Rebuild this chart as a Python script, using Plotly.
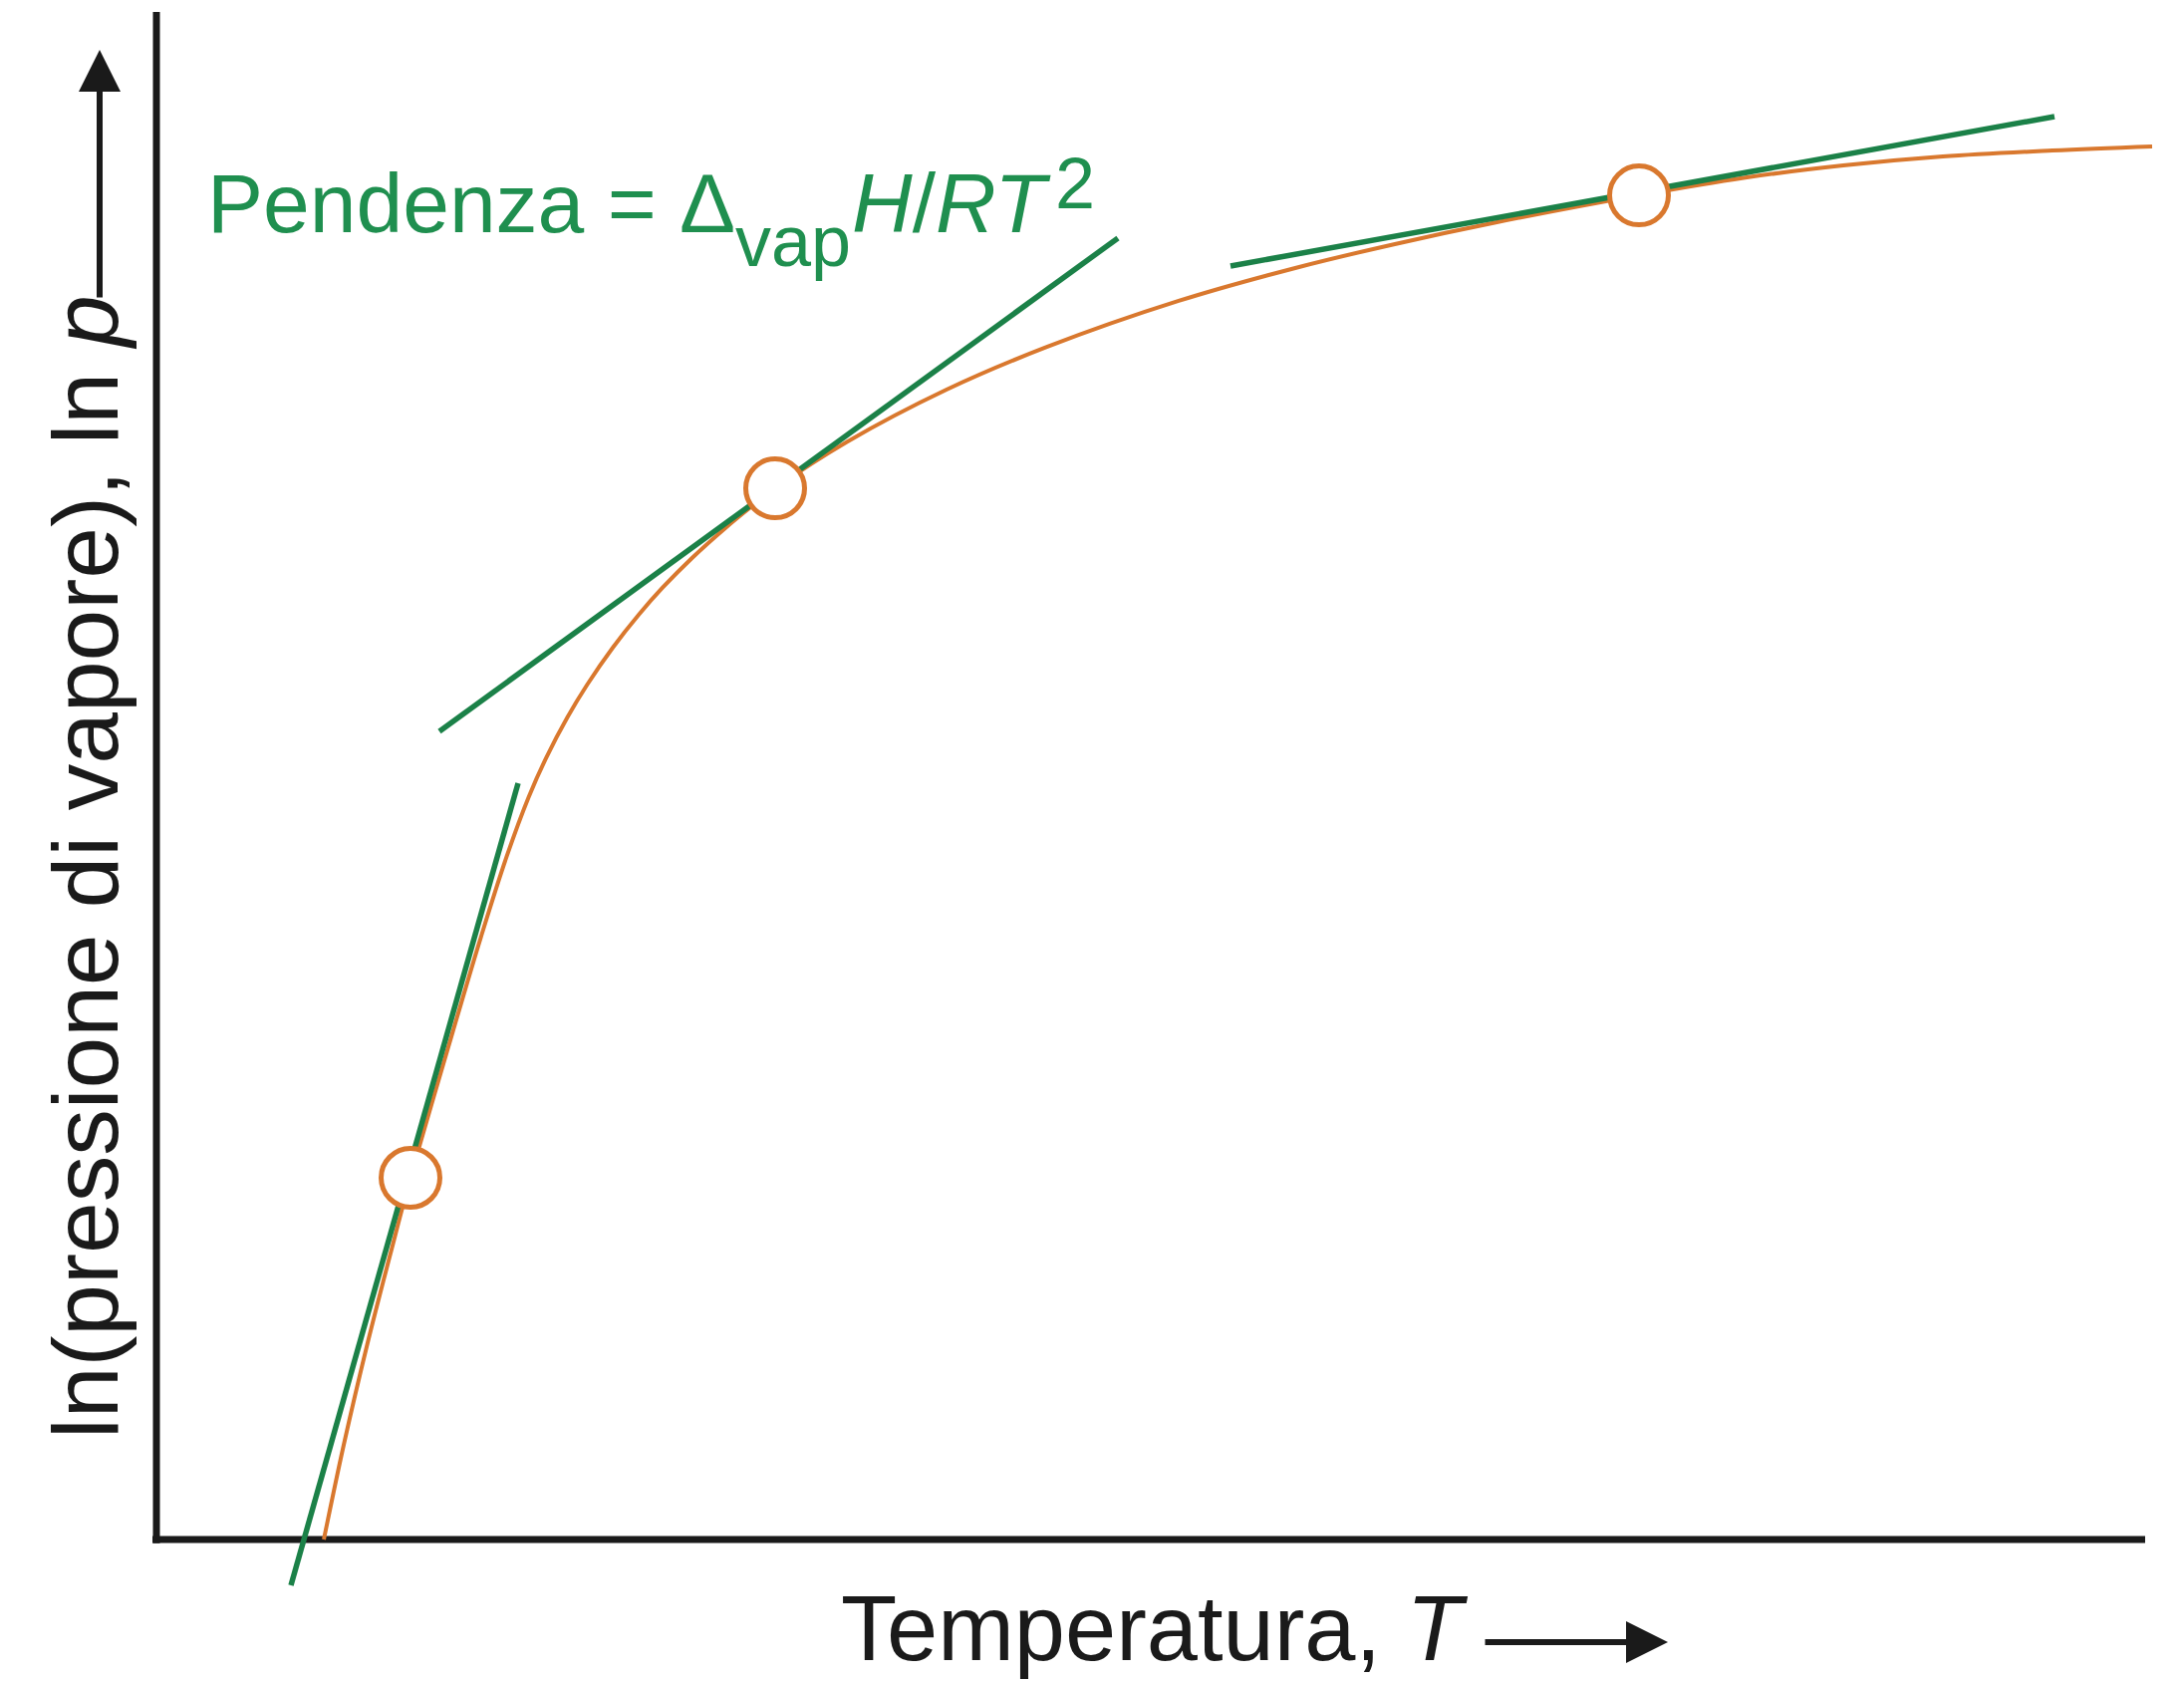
import plotly.graph_objects as go

# ---- data (arbitrary units: temperature T, ln p) ----
curve_T = [8.4, 9.4, 10.57, 11.72, 12.75, 15.1, 16.29, 17.57, 18.68, 19.57, 20.62,
           21.62, 22.9, 24.2, 25.39, 26.88, 28.55, 29.76, 31.05, 34.65, 39.65, 44.65,
           51.3, 57.15, 62.15, 67.15, 74.4, 79.65, 84.65, 89.65, 95.15, 100.15]
curve_lnp = [0.0, 6.33, 13.0, 19.0, 24.2, 35.0, 40.33, 45.67, 49.67, 52.33, 55.0,
             57.2, 59.67, 61.87, 63.67, 65.67, 67.67, 69.0, 70.33, 73.43, 76.93, 79.77,
             82.87, 85.07, 86.67, 88.1, 89.93, 91.1, 91.93, 92.53, 92.93, 93.2]

points_T = [12.75, 31.05, 74.4]
points_lnp = [24.2, 70.33, 89.93]

tangent_T = [[6.75, 18.15], [14.2, 48.25], [53.9, 95.25]]
tangent_lnp = [[-3.07, 50.6], [54.07, 87.07], [85.2, 95.2]]

x_axis_end = 99.8
y_axis_end = 102.2

# page is offset by the 8px body margin
OFF = 8
W, H = 2192 - OFF, 1688 - OFF
ORANGE = "#d9782e"
GREEN = "#1b8148"
TEXT_GREEN = "#1f8f4f"
BLACK = "#1a1a1a"
FONT = "Liberation Sans, Arial, sans-serif"

fig = go.Figure()

fig.add_trace(go.Scatter(x=curve_T, y=curve_lnp, mode="lines",
                         line=dict(color=ORANGE, width=4, shape="spline", smoothing=1.0),
                         hoverinfo="skip", showlegend=False))

for tx, ty in zip(tangent_T, tangent_lnp):
    fig.add_trace(go.Scatter(x=tx, y=ty, mode="lines",
                             line=dict(color=GREEN, width=5.5),
                             hoverinfo="skip", showlegend=False))

fig.add_trace(go.Scatter(x=points_T, y=points_lnp, mode="markers",
                         marker=dict(size=59, color="white",
                                     line=dict(color=ORANGE, width=5)),
                         hoverinfo="skip", showlegend=False))

# axes drawn as lines
fig.add_shape(type="line", x0=-0.2, y0=0, x1=x_axis_end, y1=0,
              line=dict(color=BLACK, width=7), layer="below")
fig.add_shape(type="line", x0=0, y0=-0.25, x1=0, y1=y_axis_end,
              line=dict(color=BLACK, width=7), layer="below")


def px(x):
    return (x - OFF) / W


def py(y):
    return 1 - (y - OFF) / H


def label(text, x, y, size, color, xanchor="left", angle=0):
    return dict(text=text, x=px(x), y=py(y), xref="paper", yref="paper",
                xanchor=xanchor, yanchor="middle", showarrow=False, textangle=angle,
                font=dict(family=FONT, size=size, color=color))


annotations = [
    label("Pendenza = \u0394", 206, 204, 84, TEXT_GREEN),
    label("vap", 736, 242, 72, TEXT_GREEN),
    label("<i>H</i>/<i>RT</i>", 853, 204, 84, TEXT_GREEN),
    label("2", 1057, 184, 72, TEXT_GREEN),
    label("Temperatura, <i>T</i>", 1476, 1634, 92, BLACK, xanchor="right"),
    label("ln(pressione di vapore), ln <i>p</i>", 86, 870, 93, BLACK,
          xanchor="center", angle=-90),
    # x arrow
    dict(text="", x=px(1674), y=py(1648), xref="paper", yref="paper",
         ax=-185, ay=0, showarrow=True, arrowhead=2, arrowsize=1.4,
         arrowwidth=6, arrowcolor=BLACK),
    # y arrow
    dict(text="", x=px(100), y=py(50), xref="paper", yref="paper",
         ax=0, ay=250, showarrow=True, arrowhead=2, arrowsize=1.4,
         arrowwidth=6, arrowcolor=BLACK),
]

x_lo = (OFF - 157) / 20.0
x_hi = (OFF + W - 157) / 20.0
y_lo = -(OFF + H - 1545) / 15.0
y_hi = (1545 - OFF) / 15.0

fig.update_layout(
    width=W, height=H,
    margin=dict(l=0, r=0, t=0, b=0),
    paper_bgcolor="white", plot_bgcolor="white",
    xaxis=dict(range=[x_lo, x_hi], visible=False, fixedrange=True),
    yaxis=dict(range=[y_lo, y_hi], visible=False, fixedrange=True),
    annotations=annotations,
    showlegend=False,
)

fig.write_html("out.html")
